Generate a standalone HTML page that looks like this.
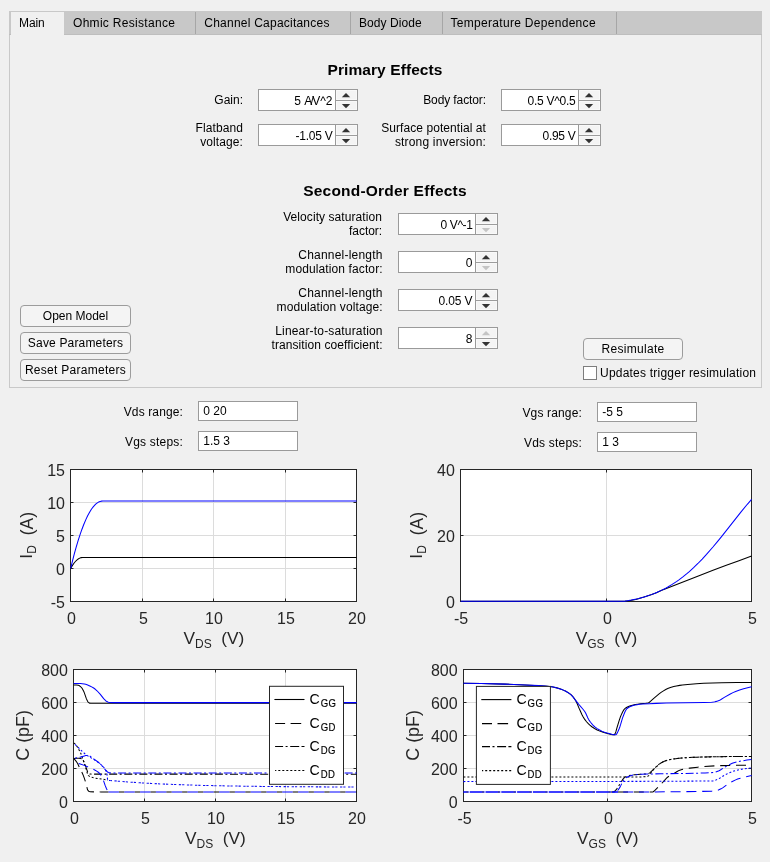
<!DOCTYPE html>
<html>
<head>
<meta charset="utf-8">
<title>MOSFET Parameterization</title>
<style>
html,body{margin:0;padding:0;}
body{width:770px;height:862px;background:#f0f0f0;position:relative;overflow:hidden;
 font-family:"Liberation Sans",sans-serif;font-size:12px;color:#000;}
.abs{position:absolute;}
/* tab group */
#tabstrip{position:absolute;left:9px;top:11px;width:753px;height:24px;background:#c8c8c8;box-sizing:border-box;border-bottom:1px solid #bebebe;}
#panel{position:absolute;left:9px;top:34px;width:751px;height:353px;border:1px solid #c9c9c9;border-top:none;background:#f0f0f0;box-sizing:content-box;}
.tab{letter-spacing:0.23px;position:absolute;top:12px;height:22px;line-height:22px;white-space:nowrap;border-right:1px solid #a6a6a6;box-sizing:border-box;padding-left:9px;}
.tab.sel{background:#f0f0f0;border-right:none;height:23px;letter-spacing:-0.1px;}
/* labels */
.lbl{position:absolute;text-align:right;line-height:14px;white-space:nowrap;}
.h{position:absolute;left:0;width:770px;text-align:center;font-weight:bold;font-size:15px;line-height:18px;white-space:nowrap;}
/* spinner */
.spin{position:absolute;width:100px;height:22px;box-sizing:border-box;border:1px solid #9a9a9a;background:#fff;}
.spin .v{position:absolute;left:0;top:1px;width:73.5px;height:20px;line-height:20px;text-align:right;white-space:nowrap;}
.spin .b{position:absolute;left:76px;top:0;width:21px;height:20px;border-left:1px solid #9a9a9a;background:#f4f4f4;box-shadow:inset 0 0 0 1px #f9f9f9;}
.spin .b:before{content:"";position:absolute;left:0;top:10px;width:21px;height:1px;background:#9c9c9c;box-shadow:0 1px 0 #f9f9f9,0 -1px 0 #f9f9f9;}
.spin svg{position:absolute;left:0;top:0;}
/* buttons */
.btn{position:absolute;height:22px;line-height:20px;box-sizing:border-box;border:1px solid #9c9c9c;border-radius:4px;background:#f4f4f4;text-align:center;white-space:nowrap;}
.edit{position:absolute;width:100px;height:20px;box-sizing:border-box;border:1px solid #9a9a9a;background:#fff;line-height:19px;padding-left:4.3px;white-space:nowrap;}
.chk{position:absolute;width:14px;height:14px;box-sizing:border-box;border:1px solid #7d7d7d;background:#fff;}
</style>
</head>
<body>
<div id="root" style="position:absolute;left:0;top:0;width:770px;height:862px;will-change:transform;">
<div id="panel"></div>
<div id="tabstrip"></div>
<div class="tab sel" style="left:11px;width:53px;padding-left:8px;">Main</div>
<div class="tab" style="left:64px;width:132px;letter-spacing:0.3px;">Ohmic Resistance</div>
<div class="tab" style="left:196px;width:155px;padding-left:8.3px;">Channel Capacitances</div>
<div class="tab" style="left:351px;width:92px;padding-left:8px;letter-spacing:0.07px;">Body Diode</div>
<div class="tab" style="left:443px;width:174px;padding-left:7.5px;letter-spacing:0.3px;">Temperature Dependence</div>

<div class="h" style="top:60.7px;letter-spacing:0.09px;font-size:15.5px;">Primary Effects</div>
<div class="lbl" style="right:527px;top:93px;">Gain:</div>
<div class="lbl" style="right:527px;top:121px;letter-spacing:0.1px;">Flatband<br>voltage:</div>
<div class="lbl" style="right:284px;top:93px;letter-spacing:-0.1px;">Body factor:</div>
<div class="lbl" style="right:284px;top:121px;"><span style="letter-spacing:0.07px">Surface potential at</span><br><span style="letter-spacing:0.18px">strong inversion:</span></div>

<div class="spin" style="left:258px;top:89px;"><div class="v">5 <span style="letter-spacing:-1.75px">A/</span>V^2</div><div class="b"><svg width="21" height="20"><path d="M5.8 7.2L10 3L14.2 7.2Z" fill="#333"/><path d="M5.8 14.1L10 18.3L14.2 14.1Z" fill="#333"/></svg></div></div>
<div class="spin" style="left:258px;top:124px;"><div class="v" style="letter-spacing:-0.25px">-1.05 V</div><div class="b"><svg width="21" height="20"><path d="M5.8 7.2L10 3L14.2 7.2Z" fill="#333"/><path d="M5.8 14.1L10 18.3L14.2 14.1Z" fill="#333"/></svg></div></div>
<div class="spin" style="left:501px;top:89px;"><div class="v" style="letter-spacing:-0.26px">0.5 V^0.5</div><div class="b"><svg width="21" height="20"><path d="M5.8 7.2L10 3L14.2 7.2Z" fill="#333"/><path d="M5.8 14.1L10 18.3L14.2 14.1Z" fill="#333"/></svg></div></div>
<div class="spin" style="left:501px;top:124px;"><div class="v" style="letter-spacing:-0.28px">0.95 V</div><div class="b"><svg width="21" height="20"><path d="M5.8 7.2L10 3L14.2 7.2Z" fill="#333"/><path d="M5.8 14.1L10 18.3L14.2 14.1Z" fill="#333"/></svg></div></div>

<div class="h" style="top:181.7px;letter-spacing:0.21px;font-size:15.5px;">Second-Order Effects</div>
<div class="lbl" style="letter-spacing:0.13px;right:388.1px;top:210px;"><span style="letter-spacing:0.07px">Velocity saturation</span><br><span style="letter-spacing:-0.08px">factor:</span></div>
<div class="lbl" style="letter-spacing:0.13px;right:387.3px;top:248px;"><span style="letter-spacing:0.215px">Channel-length</span><br><span style="letter-spacing:0.11px">modulation factor:</span></div>
<div class="lbl" style="letter-spacing:0.13px;right:387.3px;top:286px;"><span style="letter-spacing:0.215px">Channel-length</span><br><span style="letter-spacing:0.11px">modulation voltage:</span></div>
<div class="lbl" style="letter-spacing:0.13px;right:387.3px;top:324px;"><span style="letter-spacing:0.17px">Linear-to-saturation</span><br><span style="letter-spacing:0.09px">transition coefficient:</span></div>

<div class="spin" style="left:398px;top:213px;"><div class="v" style="letter-spacing:-0.4px">0 V^-1</div><div class="b"><svg width="21" height="20"><path d="M5.8 7.2L10 3L14.2 7.2Z" fill="#333"/><path d="M5.8 14.1L10 18.3L14.2 14.1Z" fill="#c4c4c4"/></svg></div></div>
<div class="spin" style="left:398px;top:251px;"><div class="v">0</div><div class="b"><svg width="21" height="20"><path d="M5.8 7.2L10 3L14.2 7.2Z" fill="#333"/><path d="M5.8 14.1L10 18.3L14.2 14.1Z" fill="#c4c4c4"/></svg></div></div>
<div class="spin" style="left:398px;top:289px;"><div class="v" style="letter-spacing:-0.1px">0.05 V</div><div class="b"><svg width="21" height="20"><path d="M5.8 7.2L10 3L14.2 7.2Z" fill="#333"/><path d="M5.8 14.1L10 18.3L14.2 14.1Z" fill="#333"/></svg></div></div>
<div class="spin" style="left:398px;top:327px;"><div class="v">8</div><div class="b"><svg width="21" height="20"><path d="M5.8 7.2L10 3L14.2 7.2Z" fill="#c4c4c4"/><path d="M5.8 14.1L10 18.3L14.2 14.1Z" fill="#333"/></svg></div></div>

<div class="btn" style="left:20px;top:305px;width:111px;">Open Model</div>
<div class="btn" style="left:20px;top:332px;width:111px;letter-spacing:0.17px;">Save Parameters</div>
<div class="btn" style="left:20px;top:359px;width:111px;letter-spacing:0.28px;">Reset Parameters</div>
<div class="btn" style="left:583px;top:338px;width:100px;letter-spacing:0.3px;">Resimulate</div>
<div class="chk" style="left:583px;top:366px;"></div>
<div class="lbl" style="left:600px;top:366px;text-align:left;letter-spacing:0.22px;">Updates trigger resimulation</div>

<div class="lbl" style="right:587px;top:404.8px;letter-spacing:0.12px;">Vds range:</div>
<div class="lbl" style="right:587px;top:434.8px;letter-spacing:0.2px;">Vgs steps:</div>
<div class="edit" style="left:198px;top:401px;">0 20</div>
<div class="edit" style="left:198px;top:431px;">1.5 3</div>
<div class="lbl" style="right:188px;top:405.8px;letter-spacing:0.15px;">Vgs range:</div>
<div class="lbl" style="right:188px;top:435.8px;letter-spacing:0.2px;">Vds steps:</div>
<div class="edit" style="left:597px;top:402px;">-5 5</div>
<div class="edit" style="left:597px;top:432px;">1 3</div>

<!--PLOTS-->
<svg width="770" height="862" viewBox="0 0 770 862" style="position:absolute;left:0;top:0;letter-spacing:0;" font-family="Liberation Sans, sans-serif">
<rect x="70.5" y="469.5" width="286" height="132" fill="#fff"/>
<line x1="142.5" y1="469.5" x2="142.5" y2="601.5" stroke="#dcdcdc" stroke-width="1"/>
<line x1="213.5" y1="469.5" x2="213.5" y2="601.5" stroke="#dcdcdc" stroke-width="1"/>
<line x1="285.5" y1="469.5" x2="285.5" y2="601.5" stroke="#dcdcdc" stroke-width="1"/>
<line x1="70.5" y1="568.5" x2="356.5" y2="568.5" stroke="#dcdcdc" stroke-width="1"/>
<line x1="70.5" y1="535.5" x2="356.5" y2="535.5" stroke="#dcdcdc" stroke-width="1"/>
<line x1="70.5" y1="502.5" x2="356.5" y2="502.5" stroke="#dcdcdc" stroke-width="1"/>
<path d="M70.5 601.5v-3M70.5 469.5v3" stroke="#262626" stroke-width="1" fill="none"/>
<path d="M142.5 601.5v-3M142.5 469.5v3" stroke="#262626" stroke-width="1" fill="none"/>
<path d="M213.5 601.5v-3M213.5 469.5v3" stroke="#262626" stroke-width="1" fill="none"/>
<path d="M285.5 601.5v-3M285.5 469.5v3" stroke="#262626" stroke-width="1" fill="none"/>
<path d="M356.5 601.5v-3M356.5 469.5v3" stroke="#262626" stroke-width="1" fill="none"/>
<path d="M70.5 601.5h3M356.5 601.5h-3" stroke="#262626" stroke-width="1" fill="none"/>
<path d="M70.5 568.5h3M356.5 568.5h-3" stroke="#262626" stroke-width="1" fill="none"/>
<path d="M70.5 535.5h3M356.5 535.5h-3" stroke="#262626" stroke-width="1" fill="none"/>
<path d="M70.5 502.5h3M356.5 502.5h-3" stroke="#262626" stroke-width="1" fill="none"/>
<path d="M70.5 469.5h3M356.5 469.5h-3" stroke="#262626" stroke-width="1" fill="none"/>
<rect x="70.5" y="469.5" width="286" height="132" fill="none" stroke="#262626" stroke-width="1"/>
<clipPath id="c1"><rect x="69.9" y="468.5" width="287.2" height="134"/></clipPath>
<g clip-path="url(#c1)">
<path d="M70.7 568.32 L72.14 565.87 L73.94 563.24 L75.38 561.49 L76.83 560.05 L78.27 558.93 L79.71 558.12 L81.15 557.63 L82.59 557.44 L356.6 557.44" fill="none" stroke="#000000" stroke-width="1.05"/>
<path d="M70.7 568.32 L72.5 560.94 L74.3 553.98 L76.11 547.45 L78.27 540.18 L80.07 534.59 L81.87 529.44 L83.67 524.71 L85.84 519.61 L87.64 515.83 L89.44 512.48 L91.24 509.56 L92.32 508.02 L93.4 506.63 L95.21 504.65 L96.29 503.68 L97.37 502.85 L98.09 502.39 L99.17 501.82 L100.25 501.41 L100.97 501.23 L101.69 501.11 L102.77 501.06 L356.6 501.06" fill="none" stroke="#0000ff" stroke-width="1.05"/>
</g>
<text x="67" y="623.7" font-size="16" fill="#262626">0</text>
<text x="139" y="623.7" font-size="16" fill="#262626">5</text>
<text x="205" y="623.7" font-size="16" fill="#262626">10</text>
<text x="277" y="623.7" font-size="16" fill="#262626">15</text>
<text x="348" y="623.7" font-size="16" fill="#262626">20</text>
<text x="65" y="607.7" font-size="16" fill="#262626" text-anchor="end">-5</text>
<text x="65" y="574.72" font-size="16" fill="#262626" text-anchor="end">0</text>
<text x="65" y="541.75" font-size="16" fill="#262626" text-anchor="end">5</text>
<text x="65" y="508.77" font-size="16" fill="#262626" text-anchor="end">10</text>
<text x="65" y="475.8" font-size="16" fill="#262626" text-anchor="end">15</text>
<text x="183.52" y="643.9" font-size="17.3" fill="#262626">V</text>
<text x="195.06" y="647.7" font-size="12" fill="#262626">DS</text>
<text x="221.32" y="643.9" font-size="17.3" fill="#262626">(V)</text>
<g transform="translate(32.2 535.35) rotate(-90)"><text x="-23.43" y="0" font-size="17.3" fill="#262626">I</text><text x="-18.42" y="3.8" font-size="12" fill="#262626">D</text><text transform="translate(0.14 0.4) scale(1 1.07)" font-size="17.4" fill="#262626">(A)</text></g>
<rect x="460.5" y="469.5" width="291" height="132" fill="#fff"/>
<line x1="606.5" y1="469.5" x2="606.5" y2="601.5" stroke="#dcdcdc" stroke-width="1"/>
<line x1="460.5" y1="535.5" x2="751.5" y2="535.5" stroke="#dcdcdc" stroke-width="1"/>
<path d="M460.5 601.5v-3M460.5 469.5v3" stroke="#262626" stroke-width="1" fill="none"/>
<path d="M606.5 601.5v-3M606.5 469.5v3" stroke="#262626" stroke-width="1" fill="none"/>
<path d="M751.5 601.5v-3M751.5 469.5v3" stroke="#262626" stroke-width="1" fill="none"/>
<path d="M460.5 601.5h3M751.5 601.5h-3" stroke="#262626" stroke-width="1" fill="none"/>
<path d="M460.5 535.5h3M751.5 535.5h-3" stroke="#262626" stroke-width="1" fill="none"/>
<path d="M460.5 469.5h3M751.5 469.5h-3" stroke="#262626" stroke-width="1" fill="none"/>
<rect x="460.5" y="469.5" width="291" height="132" fill="none" stroke="#262626" stroke-width="1"/>
<clipPath id="c2"><rect x="459.9" y="468.5" width="292.2" height="134"/></clipPath>
<g clip-path="url(#c2)">
<path d="M460.7 601.3 L618.46 601.3 L625.12 601.09 L627.12 600.92 L629.12 600.66 L635.77 599.4 L639.1 598.59 L646.42 596.37 L651.75 594.56 L656.41 592.77 L661.73 590.35 L665.73 588.69 L699.01 575.69 L712.99 570.34 L726.3 565.33 L738.95 560.67 L751.6 556.1" fill="none" stroke="#000000" stroke-width="1.05"/>
<path d="M460.7 601.3 L624.9 601.27 L631.34 600.1 L637.78 598.7 L644.23 596.98 L648.52 595.62 L650.67 594.88 L654.96 593.24 L657.11 592.34 L661.41 590.37 L665.7 588.17 L667.85 586.99 L672.14 584.42 L676.44 581.6 L678.59 580.1 L682.88 576.88 L687.18 573.4 L689.32 571.55 L693.62 567.66 L697.91 563.5 L702.21 559.09 L706.5 554.43 L712.95 547.03 L717.24 541.87 L721.54 536.56 L740.86 512.08 L747.31 504.29 L751.6 499.4" fill="none" stroke="#0000ff" stroke-width="1.05"/>
</g>
<text x="454" y="623.7" font-size="16" fill="#262626">-5</text>
<text x="603" y="623.7" font-size="16" fill="#262626">0</text>
<text x="748" y="623.7" font-size="16" fill="#262626">5</text>
<text x="454.8" y="607.7" font-size="16" fill="#262626" text-anchor="end">0</text>
<text x="454.8" y="541.75" font-size="16" fill="#262626" text-anchor="end">20</text>
<text x="454.8" y="475.8" font-size="16" fill="#262626" text-anchor="end">40</text>
<text x="575.68" y="643.9" font-size="17.3" fill="#262626">V</text>
<text x="587.22" y="647.7" font-size="12" fill="#262626">GS</text>
<text x="614.16" y="643.9" font-size="17.3" fill="#262626">(V)</text>
<g transform="translate(422.4 535.35) rotate(-90)"><text x="-23.43" y="0" font-size="17.3" fill="#262626">I</text><text x="-18.42" y="3.8" font-size="12" fill="#262626">D</text><text transform="translate(0.14 0.4) scale(1 1.07)" font-size="17.4" fill="#262626">(A)</text></g>
<rect x="73.5" y="669.5" width="283" height="132" fill="#fff"/>
<line x1="144.5" y1="669.5" x2="144.5" y2="801.5" stroke="#dcdcdc" stroke-width="1"/>
<line x1="215.5" y1="669.5" x2="215.5" y2="801.5" stroke="#dcdcdc" stroke-width="1"/>
<line x1="285.5" y1="669.5" x2="285.5" y2="801.5" stroke="#dcdcdc" stroke-width="1"/>
<line x1="73.5" y1="768.5" x2="356.5" y2="768.5" stroke="#dcdcdc" stroke-width="1"/>
<line x1="73.5" y1="735.5" x2="356.5" y2="735.5" stroke="#dcdcdc" stroke-width="1"/>
<line x1="73.5" y1="702.5" x2="356.5" y2="702.5" stroke="#dcdcdc" stroke-width="1"/>
<path d="M73.5 801.5v-3M73.5 669.5v3" stroke="#262626" stroke-width="1" fill="none"/>
<path d="M144.5 801.5v-3M144.5 669.5v3" stroke="#262626" stroke-width="1" fill="none"/>
<path d="M215.5 801.5v-3M215.5 669.5v3" stroke="#262626" stroke-width="1" fill="none"/>
<path d="M285.5 801.5v-3M285.5 669.5v3" stroke="#262626" stroke-width="1" fill="none"/>
<path d="M356.5 801.5v-3M356.5 669.5v3" stroke="#262626" stroke-width="1" fill="none"/>
<path d="M73.5 801.5h3M356.5 801.5h-3" stroke="#262626" stroke-width="1" fill="none"/>
<path d="M73.5 768.5h3M356.5 768.5h-3" stroke="#262626" stroke-width="1" fill="none"/>
<path d="M73.5 735.5h3M356.5 735.5h-3" stroke="#262626" stroke-width="1" fill="none"/>
<path d="M73.5 702.5h3M356.5 702.5h-3" stroke="#262626" stroke-width="1" fill="none"/>
<path d="M73.5 669.5h3M356.5 669.5h-3" stroke="#262626" stroke-width="1" fill="none"/>
<rect x="73.5" y="669.5" width="283" height="132" fill="none" stroke="#262626" stroke-width="1"/>
<clipPath id="c3"><rect x="72.9" y="668.5" width="284.2" height="134"/></clipPath>
<g clip-path="url(#c3)">
<path d="M73.7 684.9 L76.36 685.02 L78.36 685.27 L79.03 685.54 L79.69 685.95 L81.02 687.02 L81.69 687.77 L82.35 688.79 L83.68 691.34 L84.35 692.83 L86.35 698.66 L87.68 701.45 L88.34 702.38 L89.01 702.81 L89.68 703.13 L90.34 703.29 L356.6 703.3" fill="none" stroke="#000000" stroke-width="1.05"/>
<path d="M73.7 758.7 L74.36 759.23 L75.67 760.67 L76.98 762.47 L77.64 763.56 L80.26 769.12 L82.23 772.98 L82.89 774.43 L84.2 777.86 L85.51 781.87 L86.17 784.04 L87.48 789.57 L88.13 790.66 L88.79 791.22 L89.45 791.57 L90.1 791.71 L94.04 791.89 L100.6 791.9" fill="none" stroke="#000000" stroke-width="1.05" stroke-dasharray="10 5.8"/>
<path d="M100.6 791.9 L108.5 791.9" fill="none" stroke="#000000" stroke-width="1.05"/>
<path d="M118.9 792 L356.6 792" fill="none" stroke="#000000" stroke-width="1.15" stroke-dasharray="5.4 10.4"/>
<path d="M73.7 758.5 L76.36 758.32 L79.03 758.33 L80.36 758.45 L81.69 758.68 L82.35 759.06 L83.02 759.99 L84.35 762.6 L85.02 764.33 L86.35 768.33 L87.68 772.05 L88.34 773.14 L89.01 773.7 L89.68 774.05 L90.34 774.1 L356.6 774.2" fill="none" stroke="#000000" stroke-width="1.05" stroke-dasharray="8 2.5 2 2.6"/>
<path d="M73.7 743 L74.36 743.38 L75.02 743.93 L75.68 744.62 L76.34 745.44 L77 746.37 L78.32 748.52 L80.3 752.19 L80.96 753.71 L81.62 755.53 L85.57 767.23 L86.23 769.29 L87.55 774.02 L88.21 775.42 L88.87 775.91 L90.19 776.67 L91.51 777.2 L92.83 777.58 L95.47 778.13 L101.4 778.94 L108 780.1" fill="none" stroke="#000000" stroke-width="1.05" stroke-dasharray="2 2"/>
<path d="M73.7 683.4 L80.36 683.51 L82.35 683.72 L84.35 684.07 L85.68 684.36 L87.68 685.01 L90.34 686.16 L91.67 686.84 L93.67 688.06 L95 689 L95.67 689.53 L97 690.76 L100.33 694.38 L103.65 698.63 L105.65 700.65 L106.32 701.2 L106.98 701.59 L108.31 702.14 L109.64 702.47 L114.97 702.6 L356.6 702.6" fill="none" stroke="#0000ff" stroke-width="1.05"/>
<path d="M73.7 762.1 L76.98 762.97 L80.27 764 L84.21 765.37 L86.83 766.39 L92.74 769 L94.71 769.94 L96.68 771.07 L98.65 772.49 L99.31 773.08 L99.96 773.83 L100.62 774.73 L101.93 776.9 L102.59 778.24 L103.25 779.97 L105.22 785.66 L106.53 788.75 L107.19 790.03 L107.84 790.92 L108.5 791.5" fill="none" stroke="#0000ff" stroke-width="1.05" stroke-dasharray="10 5.8" stroke-dashoffset="-5.2"/>
<path d="M108.5 792 L356.6 792" fill="none" stroke="#0000ff" stroke-width="1.15" stroke-dasharray="10.4 5.4"/>
<path d="M73.7 758.5 L80.36 757.12 L84.35 755.92 L85.68 755.59 L87.01 755.42 L87.68 755.4 L88.34 755.5 L89.01 755.71 L89.68 756.01 L91.01 756.84 L94.34 759.38 L97.66 761.72 L99.66 763.34 L100.99 764.59 L101.66 765.33 L104.99 769.38 L106.98 771.45 L107.65 772.05 L108.31 772.47 L108.98 772.66 L110.31 772.88 L111.64 772.99 L356.6 773" fill="none" stroke="#0000ff" stroke-width="1.05" stroke-dasharray="8 2.5 2 2.6" stroke-dashoffset="-6"/>
<path d="M73.7 743 L77.03 746.37 L81.69 750.87 L83.68 752.73 L85.68 754.42 L87.01 755.42 L88.34 756.3 L93.66 759.39 L97.66 761.94 L99.65 763.39 L102.31 765.77 L103.65 767.24 L104.31 768.11 L105.64 770.22 L106.31 771.59 L106.97 773.88 L107.64 780.21 L108.97 780.45 L110.3 780.5" fill="none" stroke="#0000ff" stroke-width="1.05" stroke-dasharray="2 2" stroke-dashoffset="-2"/>
<path d="M110.3 780.5 L119.62 781.33 L127.61 781.96 L140.26 782.82 L151.57 783.49 L160.23 783.91 L176.2 784.56 L202.16 785.41 L234.12 786.04 L270.73 786.54 L318.66 786.88 L356.6 787" fill="none" stroke="#1010f4" stroke-width="1.05" stroke-dasharray="2.3 1 2.2 2.56" stroke-dashoffset="-4.2"/>
</g>
<text x="70" y="823.8" font-size="16" fill="#262626">0</text>
<text x="141" y="823.8" font-size="16" fill="#262626">5</text>
<text x="207" y="823.8" font-size="16" fill="#262626">10</text>
<text x="277" y="823.8" font-size="16" fill="#262626">15</text>
<text x="348" y="823.8" font-size="16" fill="#262626">20</text>
<text x="67.9" y="807.8" font-size="16" fill="#262626" text-anchor="end">0</text>
<text x="67.9" y="774.8" font-size="16" fill="#262626" text-anchor="end">200</text>
<text x="67.9" y="741.8" font-size="16" fill="#262626" text-anchor="end">400</text>
<text x="67.9" y="708.8" font-size="16" fill="#262626" text-anchor="end">600</text>
<text x="67.9" y="675.8" font-size="16" fill="#262626" text-anchor="end">800</text>
<text x="185.02" y="844" font-size="17.3" fill="#262626">V</text>
<text x="196.56" y="847.8" font-size="12" fill="#262626">DS</text>
<text x="222.82" y="844" font-size="17.3" fill="#262626">(V)</text>
<g transform="translate(28.3 735.4) rotate(-90)"><text x="0" y="0.3" font-size="17.9" fill="#262626" text-anchor="middle">C (pF)</text></g>
<rect x="269.5" y="686.3" width="74" height="98" fill="#fff" stroke="#262626" stroke-width="1"/>
<line x1="274.4" y1="699.5" x2="304.5" y2="699.5" stroke="#000" stroke-width="1.1"/>
<text x="309.5" y="703.9" font-size="14.2" fill="#000">C</text>
<text transform="translate(320.7 706.7) scale(0.92 1)" font-size="10.4" fill="#000" letter-spacing="0.4" stroke="#000" stroke-width="0.15">GG</text>
<line x1="274.4" y1="723.5" x2="304.5" y2="723.5" stroke="#000" stroke-width="1.1" stroke-dasharray="0 0.7 10 5.5 10.6 99"/>
<text x="309.5" y="727.9" font-size="14.2" fill="#000">C</text>
<text transform="translate(320.7 730.7) scale(0.92 1)" font-size="10.4" fill="#000" letter-spacing="0.4" stroke="#000" stroke-width="0.15">GD</text>
<line x1="274.4" y1="746.5" x2="304.5" y2="746.5" stroke="#000" stroke-width="1.1" stroke-dasharray="0 0.7 8 2.5 2 2.6 9 2.3 3 99"/>
<text x="309.5" y="750.9" font-size="14.2" fill="#000">C</text>
<text transform="translate(320.7 753.7) scale(0.92 1)" font-size="10.4" fill="#000" letter-spacing="0.4" stroke="#000" stroke-width="0.15">DG</text>
<line x1="274.4" y1="770.5" x2="304.5" y2="770.5" stroke="#000" stroke-width="1.1" stroke-dasharray="0 0.7 1.2 2 2 2 2 2 2 2 2 2 2 2 2 2 2 2 2 2 99"/>
<text x="309.5" y="774.9" font-size="14.2" fill="#000">C</text>
<text transform="translate(320.7 777.7) scale(0.92 1)" font-size="10.4" fill="#000" letter-spacing="0.4" stroke="#000" stroke-width="0.15">DD</text>
<rect x="463.5" y="669.5" width="288" height="132" fill="#fff"/>
<line x1="607.5" y1="669.5" x2="607.5" y2="801.5" stroke="#dcdcdc" stroke-width="1"/>
<line x1="463.5" y1="768.5" x2="751.5" y2="768.5" stroke="#dcdcdc" stroke-width="1"/>
<line x1="463.5" y1="735.5" x2="751.5" y2="735.5" stroke="#dcdcdc" stroke-width="1"/>
<line x1="463.5" y1="702.5" x2="751.5" y2="702.5" stroke="#dcdcdc" stroke-width="1"/>
<path d="M463.5 801.5v-3M463.5 669.5v3" stroke="#262626" stroke-width="1" fill="none"/>
<path d="M607.5 801.5v-3M607.5 669.5v3" stroke="#262626" stroke-width="1" fill="none"/>
<path d="M751.5 801.5v-3M751.5 669.5v3" stroke="#262626" stroke-width="1" fill="none"/>
<path d="M463.5 801.5h3M751.5 801.5h-3" stroke="#262626" stroke-width="1" fill="none"/>
<path d="M463.5 768.5h3M751.5 768.5h-3" stroke="#262626" stroke-width="1" fill="none"/>
<path d="M463.5 735.5h3M751.5 735.5h-3" stroke="#262626" stroke-width="1" fill="none"/>
<path d="M463.5 702.5h3M751.5 702.5h-3" stroke="#262626" stroke-width="1" fill="none"/>
<path d="M463.5 669.5h3M751.5 669.5h-3" stroke="#262626" stroke-width="1" fill="none"/>
<rect x="463.5" y="669.5" width="288" height="132" fill="none" stroke="#262626" stroke-width="1"/>
<clipPath id="c4"><rect x="462.9" y="668.5" width="289.2" height="134"/></clipPath>
<g clip-path="url(#c4)">
<path d="M463.4 683.3 L481.37 683.56 L504.67 684.13 L519.98 684.72 L539.28 685.68 L546.6 686.2 L551.92 686.78 L553.92 687.15 L555.92 687.63 L559.91 688.86 L563.9 690.37 L565.9 691.32 L567.23 692.08 L569.23 693.39 L571.23 694.95 L571.89 695.55 L573.22 697.02 L574.55 698.83 L575.88 700.97 L577.22 703.81 L579.21 708.62 L579.88 710.08 L581.87 714.43 L583.21 717.03 L584.54 719.09 L586.53 721.75 L588.53 723.96 L589.86 725.19 L591.86 726.74 L594.52 728.5 L597.18 729.94 L599.85 731.11 L603.17 732.33 L606.5 733.31 L611.16 734.43 L612.49 734.66 L613.82 734.79 L614.49 734.71 L615.15 733.59 L615.82 731.94 L617.15 727.19 L619.15 720.58 L620.48 716.67 L621.14 715.12 L622.48 712.23 L623.14 710.96 L623.81 709.87 L624.47 709.01 L625.14 708.41 L626.47 707.49 L628.47 706.45 L630.46 705.72 L632.46 705.17 L635.12 704.59 L637.78 704.15 L640.45 703.78 L645.77 703.31 L647.77 703.01 L648.43 702.8 L649.1 702.46 L650.43 701.47 L653.76 698.39 L659.08 693.95 L661.08 692.42 L663.08 691.12 L665.74 689.55 L667.74 688.52 L669.07 687.94 L670.4 687.46 L673.73 686.56 L676.39 685.96 L679.72 685.36 L682.38 684.99 L687.7 684.4 L696.36 683.67 L703.68 683.31 L721.65 682.84 L736.96 682.59 L751.6 682.5" fill="none" stroke="#000000" stroke-width="1.05"/>
<path d="M611 792 L612.33 792 L613 791.94 L613.67 791.71 L614.33 791.39 L615 790.97 L615.66 790.31 L617 788.58 L618.33 786.64 L620.33 783.13 L622.99 779.14 L623.66 778.29 L624.33 777.61 L624.99 777.15 L626.33 776.49 L627.66 775.97 L628.99 775.56 L630.99 775.13 L634.99 774.66 L640.32 774.24 L645.65 773.93 L647.65 773.72 L648.32 773.58 L648.98 773.28 L649.65 772.85 L650.31 772.33 L652.98 769.79 L655.65 767.5 L658.31 765.07 L659.64 763.93 L660.98 762.95 L662.31 762.2 L664.31 761.34 L666.31 760.61 L668.31 760.02 L670.31 759.56 L672.97 759.08 L675.64 758.67 L678.97 758.26 L684.3 757.82 L692.96 757.35 L702.29 757.04 L720.95 756.68 L736.94 756.47 L751.6 756.4" fill="none" stroke="#000000" stroke-width="1.05" stroke-dasharray="8 2.5 2 2.6"/>
<path d="M463.4 777 L639.78 777 L642.44 776.92 L644.44 776.74 L646.44 776.46 L647.77 776.21 L648.43 775.92 L649.1 775.34 L649.76 774.56 L653.09 770.03 L653.76 769.17 L654.42 768.46 L656.42 766.48 L657.75 765.28 L659.75 763.71 L661.08 762.84 L663.08 761.85 L665.74 760.8 L668.4 759.99 L671.06 759.41 L675.72 758.66 L681.05 758.06 L687.7 757.62 L695.69 757.24 L703.68 757 L724.31 756.62 L738.29 756.46 L751.6 756.4" fill="none" stroke="#000000" stroke-width="1.05" stroke-dasharray="2 2"/>
<path d="M618 792 L652.56 792 L653.23 791.78 L653.89 791.28 L657.88 787.44 L663.86 781.11 L666.52 778.21 L667.85 777.01 L669.84 775.72 L673.83 773.61 L677.16 771.51 L679.15 770.41 L679.81 770.13 L681.14 769.72 L684.47 768.96 L689.79 768.11 L697.76 767.16 L704.41 766.57 L715.04 765.84 L720.36 765.62 L731 765.4 L741.63 765.25 L751.6 765.2" fill="none" stroke="#000000" stroke-width="1.05" stroke-dasharray="10 5.8"/>
<path d="M463.4 683.3 L481.37 683.56 L504.67 684.13 L519.31 684.69 L538.61 685.64 L545.27 686.08 L551.26 686.68 L553.25 687.02 L555.25 687.46 L557.25 688.01 L559.24 688.64 L561.91 689.58 L563.9 690.37 L565.24 690.98 L566.57 691.69 L567.9 692.49 L569.23 693.39 L570.56 694.4 L571.89 695.57 L572.56 696.32 L575.22 699.94 L577.22 702.44 L579.88 705.72 L583.21 709.51 L584.54 711.26 L585.2 712.3 L585.87 713.57 L587.87 717.99 L588.53 719.31 L589.2 720.4 L590.53 722.27 L592.52 724.67 L593.86 726 L595.19 727.12 L597.18 728.59 L599.18 729.81 L601.84 731.12 L604.5 732.2 L607.17 733.06 L611.83 734.26 L613.82 734.64 L615.82 734.8 L616.49 734.36 L617.82 731.82 L619.15 728.74 L619.81 726.99 L620.48 724.93 L622.48 718.07 L624.47 712.98 L625.14 711.48 L625.8 710.19 L626.47 709.17 L627.13 708.49 L627.8 707.97 L628.47 707.52 L629.8 706.75 L631.79 705.92 L633.13 705.52 L635.12 705.05 L637.12 704.66 L639.12 704.35 L642.44 704.04 L649.1 703.65 L656.42 703.37 L666.4 703.1 L704.34 702.47 L711.66 702.22 L713.66 702.04 L714.99 701.75 L716.32 701.38 L718.32 700.73 L719.65 700.18 L720.98 699.46 L724.31 697.42 L730.3 693.96 L732.96 692.62 L735.63 691.49 L739.62 690.04 L743.61 688.8 L747.61 687.71 L751.6 686.8" fill="none" stroke="#0000ff" stroke-width="1.05"/>
<path d="M612 792 L613.99 792 L614.66 791.94 L615.32 791.78 L616.65 791.28 L617.32 790.8 L617.98 790.07 L618.65 789.17 L619.98 787.16 L620.64 785.88 L621.97 783.02 L622.64 781.79 L623.97 780.01 L625.3 778.52 L625.96 777.91 L626.62 777.42 L627.95 776.72 L629.95 775.91 L631.94 775.34 L634.6 774.9 L637.93 774.54 L641.25 774.32 L647.23 774.08 L660.53 773.75 L684.46 773.47 L694.43 773.29 L705.07 772.95 L713.04 772.52 L714.37 772.27 L715.7 771.92 L719.03 770.74 L720.36 770.02 L724.34 767.4 L727.67 765.56 L730.33 764.19 L731.66 763.6 L732.99 763.1 L736.98 761.94 L740.96 761.06 L746.95 760.05 L751.6 759.5" fill="none" stroke="#0000ff" stroke-width="1.05" stroke-dasharray="8 2.5 2 2.6" stroke-dashoffset="-6"/>
<path d="M463.4 781.6 L544.6 781.57 L605.84 781.48 L661.75 781.29 L712.33 781 L713 780.94 L714.33 780.63 L715.66 780.13 L718.32 778.93 L719.65 778.26 L723.65 775.7 L724.98 774.96 L727.64 773.62 L729.64 772.7 L731.63 771.88 L732.96 771.41 L736.96 770.25 L740.95 769.36 L746.94 768.39 L751.6 767.9" fill="none" stroke="#0000ff" stroke-width="1.05" stroke-dasharray="2 2"/>
<path d="M463.4 792 L618 792" fill="none" stroke="#0000ff" stroke-width="1.3" stroke-dasharray="14.8 1" stroke-dashoffset="9.5"/>
<path d="M463.4 792 L618 792" fill="none" stroke="#555" stroke-width="1.05" stroke-dasharray="1.5 14.3" stroke-dashoffset="-3"/>
<path d="M618 792 L648.58 791.95 L673.83 791.78 L697.76 791.46 L711.72 791.16 L715.04 791.04 L715.71 790.92 L717.04 790.54 L718.37 790.03 L721.02 788.85 L723.02 787.62 L727.01 784.59 L728.34 783.68 L732.32 781.44 L735.65 779.86 L737.64 779.11 L740.3 778.32 L751.6 775.5" fill="none" stroke="#0000ff" stroke-width="1.05" stroke-dasharray="10 5.8" stroke-dashoffset="-5.2"/>
</g>
<text x="457.5" y="823.8" font-size="16" fill="#262626">-5</text>
<text x="604" y="823.8" font-size="16" fill="#262626">0</text>
<text x="748" y="823.8" font-size="16" fill="#262626">5</text>
<text x="457.6" y="807.8" font-size="16" fill="#262626" text-anchor="end">0</text>
<text x="457.6" y="774.8" font-size="16" fill="#262626" text-anchor="end">200</text>
<text x="457.6" y="741.8" font-size="16" fill="#262626" text-anchor="end">400</text>
<text x="457.6" y="708.8" font-size="16" fill="#262626" text-anchor="end">600</text>
<text x="457.6" y="675.8" font-size="16" fill="#262626" text-anchor="end">800</text>
<text x="577.03" y="844" font-size="17.3" fill="#262626">V</text>
<text x="588.57" y="847.8" font-size="12" fill="#262626">GS</text>
<text x="615.51" y="844" font-size="17.3" fill="#262626">(V)</text>
<g transform="translate(418.8 735.4) rotate(-90)"><text x="0" y="0.3" font-size="17.9" fill="#262626" text-anchor="middle">C (pF)</text></g>
<rect x="476.4" y="686.4" width="74" height="98" fill="#fff" stroke="#262626" stroke-width="1"/>
<line x1="481.3" y1="699.6" x2="511.4" y2="699.6" stroke="#000" stroke-width="1.1"/>
<text x="516.4" y="704" font-size="14.2" fill="#000">C</text>
<text transform="translate(527.6 706.8) scale(0.92 1)" font-size="10.4" fill="#000" letter-spacing="0.4" stroke="#000" stroke-width="0.15">GG</text>
<line x1="481.3" y1="723.6" x2="511.4" y2="723.6" stroke="#000" stroke-width="1.1" stroke-dasharray="0 0.7 10 5.5 10.6 99"/>
<text x="516.4" y="728" font-size="14.2" fill="#000">C</text>
<text transform="translate(527.6 730.8) scale(0.92 1)" font-size="10.4" fill="#000" letter-spacing="0.4" stroke="#000" stroke-width="0.15">GD</text>
<line x1="481.3" y1="746.6" x2="511.4" y2="746.6" stroke="#000" stroke-width="1.1" stroke-dasharray="0 0.7 8 2.5 2 2.6 9 2.3 3 99"/>
<text x="516.4" y="751" font-size="14.2" fill="#000">C</text>
<text transform="translate(527.6 753.8) scale(0.92 1)" font-size="10.4" fill="#000" letter-spacing="0.4" stroke="#000" stroke-width="0.15">DG</text>
<line x1="481.3" y1="770.6" x2="511.4" y2="770.6" stroke="#000" stroke-width="1.1" stroke-dasharray="0 0.7 1.2 2 2 2 2 2 2 2 2 2 2 2 2 2 2 2 2 2 99"/>
<text x="516.4" y="775" font-size="14.2" fill="#000">C</text>
<text transform="translate(527.6 777.8) scale(0.92 1)" font-size="10.4" fill="#000" letter-spacing="0.4" stroke="#000" stroke-width="0.15">DD</text>
</svg>
<!--/PLOTS-->
</div>
</body>
</html>
